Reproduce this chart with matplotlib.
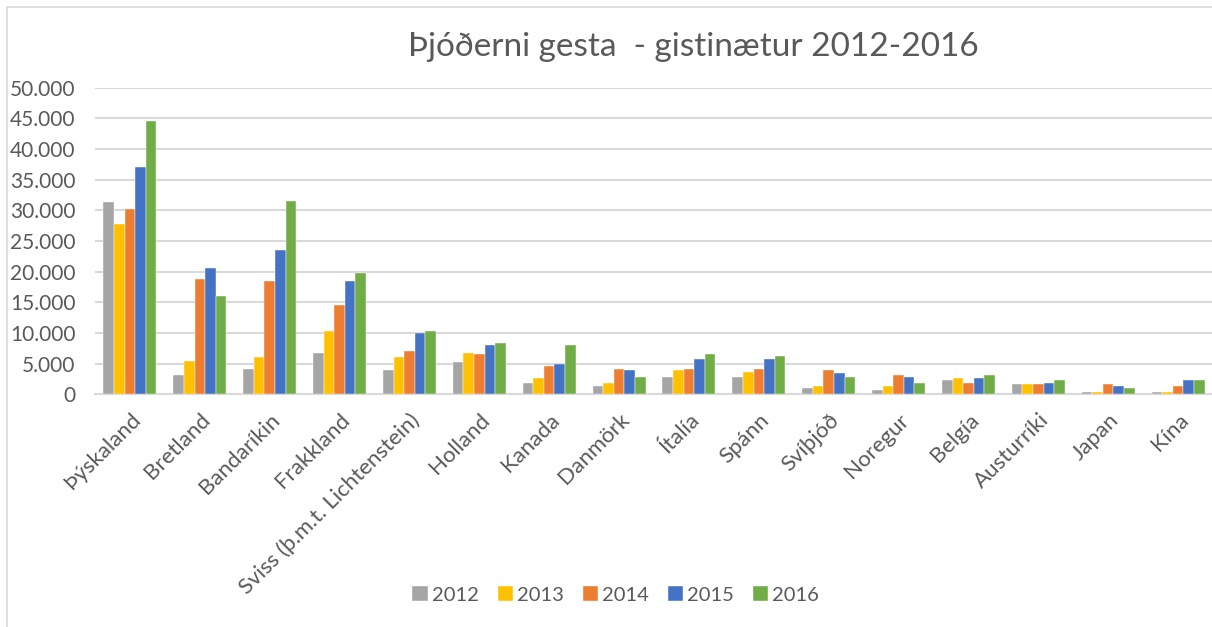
import numpy as np
import matplotlib.pyplot as plt
from matplotlib.patches import Rectangle

countries = ['Þýskaland', 'Bretland', 'Bandaríkin', 'Frakkland',
             'Sviss (þ.m.t. Lichtenstein)', 'Holland', 'Kanada', 'Danmörk',
             'Ítalía', 'Spánn', 'Svíþjóð', 'Noregur', 'Belgía', 'Austurríki',
             'Japan', 'Kína']
years = ['2012', '2013', '2014', '2015', '2016']

v2012 = [31300, 3200, 4200, 6800, 3900, 5200, 1900, 1300, 2900, 2900, 1000, 650, 2300, 1600, 300, 300]
v2013 = [27800, 5400, 6100, 10300, 6100, 6800, 2600, 1900, 3900, 3600, 1300, 1300, 2600, 1600, 300, 300]
v2014 = [30300, 18750, 18400, 14500, 7100, 6500, 4600, 4200, 4200, 4200, 3900, 3200, 1900, 1600, 1600, 1300]
v2015 = [37100, 20650, 23600, 18400, 10000, 8100, 4900, 3900, 5800, 5800, 3500, 2900, 2600, 1900, 1300, 2300]
v2016 = [44600, 16100, 31600, 19700, 10400, 8400, 8100, 2900, 6500, 6200, 2900, 1900, 3200, 2300, 1000, 2300]

series = [v2012, v2013, v2014, v2015, v2016]
colors = ['#A5A5A5', '#FFC000', '#ED7D31', '#4472C4', '#70AD47']

FONT = ['Lato', 'DejaVu Sans']
TXT = '#595959'

fig = plt.figure(figsize=(12.12, 6.27), dpi=100)
fig.patches.append(Rectangle((7 / 1212, -0.1), 1.2, 1 - 7 / 627 + 0.1, transform=fig.transFigure,
                             fill=False, edgecolor='#D9D9D9', linewidth=1.2))

ax = fig.add_axes([95 / 1212, 1 - 394.3 / 627, (1213 - 95) / 1212, (394.3 - 87.7) / 627])

x = np.arange(len(countries))
bw = 0.152
for i, (vals, col, yr) in enumerate(zip(series, colors, years)):
    ax.bar(x + (i - 2) * bw, vals, width=bw, color=col, label=yr, zorder=3,
           edgecolor='white', linewidth=0.3)

ax.set_xlim(-0.5, len(countries) - 0.5)
ax.set_ylim(0, 50000)
ax.set_yticks(np.arange(0, 50001, 5000))
ax.set_yticklabels(['0' if t == 0 else f'{t:,}'.replace(',', '.') for t in range(0, 50001, 5000)],
                   fontfamily=FONT, fontsize=15, color=TXT)
ax.grid(axis='y', color='#D9D9D9', linewidth=1.5, zorder=0)
for s in ['top', 'right', 'left']:
    ax.spines[s].set_visible(False)
ax.spines['bottom'].set_color('#D9D9D9')
ax.spines['bottom'].set_linewidth(1.5)
ax.tick_params(axis='both', length=0)
ax.tick_params(axis='y', pad=14)

ax.set_xticks(x)
ax.set_xticklabels(countries, rotation=45, ha='right', rotation_mode='anchor',
                   fontfamily=FONT, fontsize=16, color=TXT)
ax.tick_params(axis='x', pad=11)

fig.text(0.572, 1 - 47 / 627, 'Þjóðerni gesta  - gistinætur 2012-2016', ha='center', va='center',
         fontfamily=FONT, fontsize=24, color=TXT)

fig.legend(loc='center', bbox_to_anchor=(0.508, 1 - 595 / 627), ncol=5, frameon=False,
           prop={'family': FONT, 'size': 14.5}, labelcolor=TXT, handlelength=0.75, handleheight=0.75,
           handletextpad=0.2, columnspacing=0.95)

fig.savefig('out.png', dpi=100)
